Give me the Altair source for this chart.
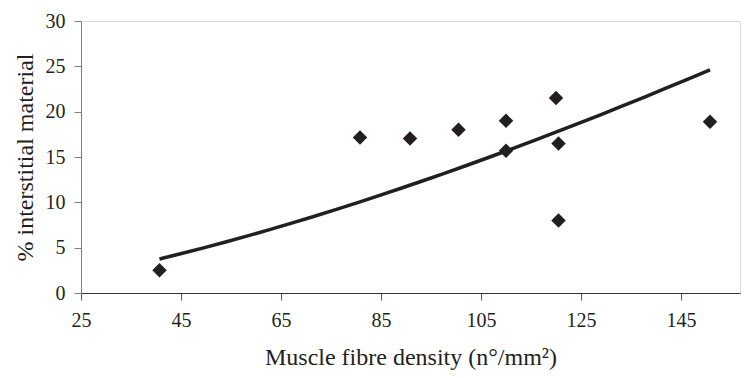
import altair as alt
import pandas as pd

density = [40.7, 80.8, 90.8, 100.5, 110.0, 110.0, 120.0, 120.5, 120.5, 150.8]
interstitial = [2.5, 17.15, 17.05, 18.0, 19.0, 15.7, 21.5, 16.5, 8.0, 18.9]
x_ticks = [25, 45, 65, 85, 105, 125, 145]
y_ticks = [0, 5, 10, 15, 20, 25, 30]

df = pd.DataFrame({"x": density, "y": interstitial})

INK = "#231f20"
FONT = "Liberation Serif"

xs = alt.Scale(domain=[25, 156.8], nice=False, zero=False)
ys = alt.Scale(domain=[0, 30], nice=False)

xaxis = alt.Axis(values=x_ticks, grid=False, domainColor="#333333", tickColor="#555555",
                 tickSize=7, labelPadding=10, labelFontSize=20,
                 labelColor=INK, title="Muscle fibre density (n°/mm²)",
                 titleFontSize=24, titleFontWeight="normal", titleColor=INK, titlePadding=15,
                 labelFlush=False)
yaxis = alt.Axis(values=y_ticks, grid=False, domainColor="#7f7f7f", tickColor="#7f7f7f",
                 tickSize=7, labelPadding=9, labelFontSize=20,
                 labelColor=INK, title="% interstitial material",
                 titleFontSize=24, titleFontWeight="normal", titleColor=INK, titlePadding=8)

points = alt.Chart(df).mark_point(shape="diamond", filled=True, size=210, color=INK, opacity=1).encode(
    x=alt.X("x:Q", scale=xs, axis=xaxis),
    y=alt.Y("y:Q", scale=ys, axis=yaxis),
)

trend = alt.Chart(df).transform_regression("x", "y", method="pow").mark_line(
    color=INK, strokeWidth=3.5
).encode(
    x=alt.X("x:Q", scale=xs),
    y=alt.Y("y:Q", scale=ys),
)

chart = (points + trend).properties(
    width=659, height=272,
    autosize=alt.AutoSizeParams(type="none"),
    padding={"left": 73, "top": 13, "right": 1, "bottom": 85},
).configure_view(stroke=None).configure(background="white", font=FONT).configure_axis(
    labelFont=FONT, titleFont=FONT
)

chart.save("out.html", embed_options={"renderer": "svg", "actions": False})
